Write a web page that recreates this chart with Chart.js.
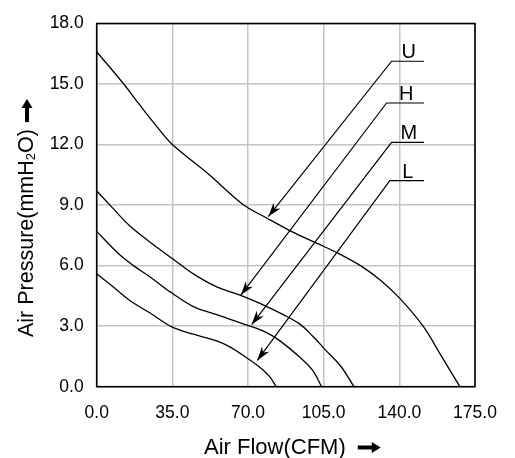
<!DOCTYPE html>
<html>
<head>
<meta charset="utf-8">
<script src="https://cdn.jsdelivr.net/npm/chart.js@4.4.1/dist/chart.umd.min.js"></script>
<style>
  html, body { margin: 0; padding: 0; background: #fff; }
  #wrap { width: 515px; height: 458px; position: relative; }
</style>
</head>
<body>
<div id="wrap"><canvas id="pq"></canvas></div>
<script>
// Curvas P-Q (vazão x pressão) para as quatro velocidades
const curvaU = [[0,16.6],[12.5,15.0],[20,13.95],[27,13.0],[35,12.0],[51,10.6],[68,9.0],[78,8.4],[90,7.7],[102,7.1],[111,6.65],[122,6.0],[131,5.3],[140,4.4],[151,3.0],[159,1.6],[168,0]];
const curvaH = [[0,9.7],[7,8.9],[15,8.0],[24.7,7.16],[35.4,6.32],[44.7,5.59],[55.5,4.95],[66.3,4.54],[75.5,4.13],[86.3,3.57],[94,3.1],[100,2.5],[106,1.8],[113,1.0],[119,0]];
const curvaM = [[0,7.7],[10,6.6],[17,6.0],[24.7,5.44],[34,4.7],[44.7,3.97],[55.5,3.57],[71,3.0],[78.6,2.68],[84.8,2.27],[94,1.46],[100,0.8],[104,0]];
const curvaL = [[0,5.6],[7,5.0],[15,4.3],[24.7,3.65],[35,2.95],[44.7,2.6],[55.5,2.27],[62,1.95],[69,1.46],[75,1.0],[80,0.5],[83,0]];

// Rótulos e setas (em unidades do gráfico)
const nomes = ['U', 'H', 'M', 'L'];
const setaInicio = [[136.4,16.13],[134.1,14.06],[136.4,12.11],[135.6,10.21]];
const setaPonta = [[79.4,8.43],[66.7,4.54],[71.7,3.08],[74.3,1.30]];
const linhaFim = 151.4;

const xTicks = [0, 35, 70, 105, 140, 175];
const yTicks = [0, 3, 6, 9, 12, 15, 18];

const FONTE = '"Liberation Sans", Arial, sans-serif';

function pts(arr) {
    return arr.map(p => ({ x: p[0], y: p[1] }));
}

const datasets = [curvaU, curvaH, curvaM, curvaL].map(c => ({
    data: pts(c),
    borderColor: '#000',
    borderWidth: 1.3,
    pointRadius: 0,
    showLine: true,
    tension: 0.35,
    fill: false
}));

// linha horizontal + seta diagonal
nomes.forEach((n, i) => {
    datasets.push({
        data: [
            { x: linhaFim, y: setaInicio[i][1] },
            { x: setaInicio[i][0], y: setaInicio[i][1] },
            { x: setaPonta[i][0], y: setaPonta[i][1] }
        ],
        borderColor: '#000',
        borderWidth: 1.2,
        pointRadius: 0,
        showLine: true,
        tension: 0,
        fill: false
    });
});

function desenhaSeta(ctx, x0, y0, x1, y1, comp, larg) {
    const ang = Math.atan2(y1 - y0, x1 - x0);
    ctx.save();
    ctx.translate(x1, y1);
    ctx.rotate(ang);
    ctx.beginPath();
    ctx.moveTo(0, 0);
    ctx.lineTo(-comp, -larg / 2);
    ctx.lineTo(-comp * 0.7, 0);
    ctx.lineTo(-comp, larg / 2);
    ctx.closePath();
    ctx.fillStyle = '#000';
    ctx.fill();
    ctx.restore();
}

// seta grossa dos títulos dos eixos
function setaGrossa(ctx, x0, y0, x1, y1) {
    const ang = Math.atan2(y1 - y0, x1 - x0);
    const len = Math.hypot(x1 - x0, y1 - y0);
    ctx.save();
    ctx.translate(x0, y0);
    ctx.rotate(ang);
    ctx.fillStyle = '#000';
    ctx.fillRect(0, -2, len - 7, 4);
    ctx.beginPath();
    ctx.moveTo(len, 0);
    ctx.lineTo(len - 9, -5.5);
    ctx.lineTo(len - 9, 5.5);
    ctx.closePath();
    ctx.fill();
    ctx.restore();
}

const anotacoes = {
    id: 'anotacoes',
    afterDatasetsDraw(chart) {
        const ctx = chart.ctx;
        const xs = chart.scales.x, ys = chart.scales.y;
        const a = chart.chartArea;
        // moldura
        ctx.save();
        ctx.strokeStyle = '#000';
        ctx.lineWidth = 1.6;
        ctx.strokeRect(a.left, a.top, a.right - a.left, a.bottom - a.top);
        ctx.restore();

        ctx.save();
        ctx.font = '20px ' + FONTE;
        ctx.fillStyle = '#000';
        ctx.textAlign = 'center';
        ctx.textBaseline = 'alphabetic';
        nomes.forEach((n, i) => {
            const sx = xs.getPixelForValue(setaInicio[i][0]);
            const sy = ys.getPixelForValue(setaInicio[i][1]);
            const tx = xs.getPixelForValue(setaPonta[i][0]);
            const ty = ys.getPixelForValue(setaPonta[i][1]);
            desenhaSeta(ctx, sx, sy, tx, ty, 14, 9);
            const lx = (sx + xs.getPixelForValue(linhaFim)) / 2 + 1;
            ctx.fillText(n, lx, sy - 3);
        });
        ctx.restore();
    },
    afterDraw(chart) {
        const ctx = chart.ctx;
        ctx.save();
        ctx.fillStyle = '#000';
        ctx.textBaseline = 'alphabetic';
        ctx.textAlign = 'left';
        // título eixo X
        ctx.font = '22px ' + FONTE;
        const tx = 'Air Flow(CFM)';
        ctx.fillText(tx, 204, 453.5);
        const wx = ctx.measureText(tx).width;
        setaGrossa(ctx, 204 + wx + 12, 447.5, 204 + wx + 35, 447.5);

        // título eixo Y (rotacionado)
        ctx.translate(33, 337);
        ctx.rotate(-Math.PI / 2);
        let x = 0;
        const p1 = 'Air Pressure(mmH';
        ctx.font = '21.5px ' + FONTE;
        ctx.fillText(p1, x, 0);
        x += ctx.measureText(p1).width;
        ctx.font = '13px ' + FONTE;
        ctx.fillText('2', x, 2);
        x += ctx.measureText('2').width;
        ctx.font = '21.5px ' + FONTE;
        ctx.fillText('O)', x, 0);
        x += ctx.measureText('O)').width;
        setaGrossa(ctx, x + 7, -6, x + 30, -6);
        ctx.restore();
    }
};

new Chart(document.getElementById('pq'), {
    type: 'scatter',
    data: { datasets: datasets },
    options: {
        responsive: true,
        maintainAspectRatio: false,
        animation: false,
        layout: { padding: { left: 0, right: 40, top: 17, bottom: 0 } },
        plugins: {
            legend: { display: false },
            tooltip: { enabled: false }
        },
        scales: {
            x: {
                type: 'linear',
                min: 0,
                max: 175,
                afterBuildTicks: s => { s.ticks = xTicks.map(v => ({ value: v })); },
                afterFit: s => { s.height = 71.3; },
                border: { display: false },
                grid: { color: '#c4c4c4', lineWidth: 1.5, drawTicks: false },
                ticks: {
                    color: '#000',
                    padding: 16,
                    font: { family: FONTE, size: 17.5 },
                    callback: v => v.toFixed(1)
                }
            },
            y: {
                type: 'linear',
                min: 0,
                max: 18,
                afterBuildTicks: s => { s.ticks = yTicks.map(v => ({ value: v })); },
                afterFit: s => { s.width = 96.7; },
                border: { display: false },
                grid: { color: '#c4c4c4', lineWidth: 1.5, drawTicks: false },
                ticks: {
                    color: '#000',
                    padding: 13,
                    font: { family: FONTE, size: 17.5 },
                    callback: v => v.toFixed(1)
                }
            }
        }
    },
    plugins: [anotacoes]
});
</script>
</body>
</html>
